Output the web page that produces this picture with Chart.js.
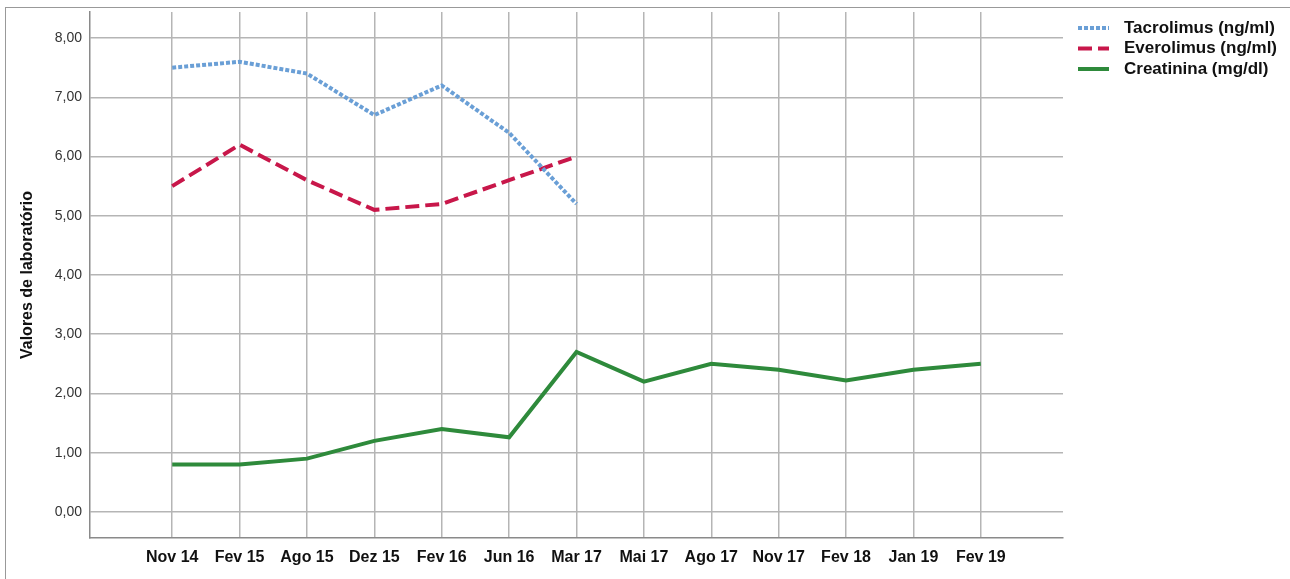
<!DOCTYPE html>
<html>
<head>
<meta charset="utf-8">
<script src="https://cdn.jsdelivr.net/npm/chart.js@4.4.1/dist/chart.umd.min.js"></script>
<style>
  body { margin: 0; background: #fff; }
  #wrap { position: absolute; left: 5px; top: 7px; width: 1285px; height: 572px;
          border-top: 1px solid #999; border-left: 1px solid #999; }
</style>
</head>
<body>
<div id="wrap"><canvas id="labChart"></canvas></div>
<script>
// x-axis labels
var datas = ["Nov 14", "Fev 15", "Ago 15", "Dez 15", "Fev 16", "Jun 16", "Mar 17",
             "Mai 17", "Ago 17", "Nov 17", "Fev 18", "Jan 19", "Fev 19"];
// series values (null = not measured)
var tacrolimus = [7.5, 7.6, 7.4, 6.7, 7.2, 6.4, 5.2, null, null, null, null, null, null];
var everolimus = [5.5, 6.2, 5.6, 5.1, 5.2, 5.6, 6.0, null, null, null, null, null, null];
var creatinina = [0.8, 0.8, 0.9, 1.2, 1.4, 1.26, 2.7, 2.2, 2.5, 2.4, 2.22, 2.4, 2.5];
var yTicks = [0, 1, 2, 3, 4, 5, 6, 7, 8];

function pts(arr) {
  return arr.map(function (v, i) { return { x: i, y: v }; }).filter(function (p) { return p.y !== null; });
}

// legend drawn by hand so the dashes show in the line samples
var lineLegend = {
  id: 'lineLegend',
  afterDraw: function (chart) {
    var c = chart.ctx, area = chart.chartArea;
    var x = area.right + 15, y = area.top + 16;
    chart.data.datasets.forEach(function (ds, i) {
      var yy = y + i * 20.5;
      c.save();
      c.strokeStyle = ds.borderColor;
      c.lineWidth = ds.borderWidth;
      c.setLineDash(ds.borderDash || []);
      c.beginPath();
      c.moveTo(x, yy);
      c.lineTo(x + 31, yy);
      c.stroke();
      c.setLineDash([]);
      c.fillStyle = '#111';
      c.font = 'bold 17px Arial, "Liberation Sans", sans-serif';
      c.textBaseline = 'middle';
      c.fillText(ds.label, x + 46, yy);
      c.restore();
    });
  }
};

var ctx = document.getElementById("labChart");
var myChart = new Chart(ctx, {
  type: 'line',
  data: {
    datasets: [
      {
        data: pts(tacrolimus),
        label: "Tacrolimus (ng/ml)",
        borderColor: "#6a9fd6",
        borderWidth: 4,
        borderDash: [4, 2],
        fill: false
      },
      {
        data: pts(everolimus),
        label: "Everolimus (ng/ml)",
        borderColor: "#c8174a",
        borderWidth: 4,
        borderDash: [14, 6],
        fill: false
      },
      {
        data: pts(creatinina),
        label: "Creatinina (mg/dl)",
        borderColor: "#2e8a3b",
        borderWidth: 4,
        fill: false
      }
    ]
  },
  options: {
    responsive: true,
    maintainAspectRatio: false,
    animation: false,
    elements: { point: { radius: 0 }, line: { tension: 0 } },
    layout: { padding: { left: 10, top: 4, right: 228, bottom: 0 } },
    plugins: {
      tooltip: { enabled: false },
      legend: { display: false }
    },
    scales: {
      x: {
        type: 'linear',
        min: -1.22,
        max: 13.22,
        afterBuildTicks: function (scale) {
          scale.ticks = datas.map(function (d, i) { return { value: i }; });
        },
        afterFit: function (scale) {
          scale.height = 42;
          scale.paddingLeft = 0;
          scale.paddingRight = 0;
        },
        grid: { color: '#b5b5b5', lineWidth: 1.5, drawTicks: false },
        border: { color: '#8a8a8a', width: 1.5 },
        ticks: {
          padding: 10,
          autoSkip: false,
          maxRotation: 0,
          color: '#111',
          font: { family: 'Arial, "Liberation Sans", sans-serif', size: 16, weight: 'bold' },
          callback: function (v) { return datas[v]; }
        }
      },
      y: {
        min: -0.44,
        max: 8.44,
        afterBuildTicks: function (scale) {
          scale.ticks = yTicks.map(function (v) { return { value: v }; });
        },
        afterFit: function (scale) {
          scale.width = 74;
          scale.paddingTop = 0;
          scale.paddingBottom = 0;
        },
        grid: { color: '#b5b5b5', lineWidth: 1.5, drawTicks: false },
        border: { color: '#8a8a8a', width: 1.5 },
        title: {
          display: true,
          text: 'Valores de laboratório',
          color: '#111',
          padding: { top: 2, bottom: 4 },
          font: { family: 'Arial, "Liberation Sans", sans-serif', size: 16, weight: 'bold' }
        },
        ticks: {
          padding: 8,
          color: '#333',
          font: { family: 'Arial, "Liberation Sans", sans-serif', size: 14 },
          callback: function (v) { return v.toFixed(2).replace('.', ','); }
        }
      }
    }
  },
  plugins: [lineLegend]
});
</script>
</body>
</html>
